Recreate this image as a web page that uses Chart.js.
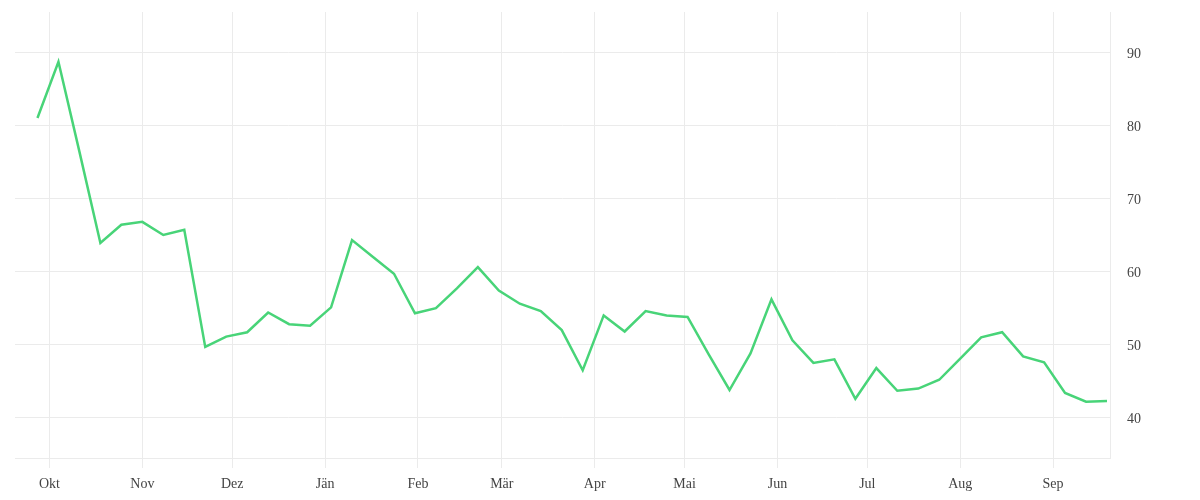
<!DOCTYPE html>
<html>
<head>
<meta charset="utf-8">
<script src="https://cdn.jsdelivr.net/npm/chart.js@4"></script>
<style>
  html, body { margin: 0; padding: 0; background: #ffffff; }
  #wrap { width: 1200px; height: 500px; }
</style>
</head>
<body>
<div id="wrap"><canvas id="c"></canvas></div>
<script>
// ---- data ----
const startDate = "2022-09-27";          // first weekly observation
const weekValues = [
  81.0, 88.7, 76.4, 63.9, 66.4, 66.8, 65.0, 65.7, 49.7, 51.1,
  51.7, 54.4, 52.8, 52.6, 55.1, 64.3, 62.0, 59.7, 54.3, 55.0,
  57.7, 60.6, 57.4, 55.6, 54.6, 52.0, 46.5, 54.0, 51.8, 54.6,
  54.0, 53.8, 48.7, 43.8, 48.8, 56.2, 50.6, 47.5, 48.0, 42.6,
  46.8, 43.7, 44.0, 45.2, 48.1, 51.0, 51.7, 48.4, 47.6, 43.4,
  42.2, 42.3
];
const monthStarts = ["2022-10-01","2022-11-01","2022-12-01","2023-01-01","2023-02-01","2023-03-01",
                     "2023-04-01","2023-05-01","2023-06-01","2023-07-01","2023-08-01","2023-09-01"];
const monthLabels = ["Okt","Nov","Dez","Jän","Feb","Mär","Apr","Mai","Jun","Jul","Aug","Sep"];
const yTicks = [40, 50, 60, 70, 80, 90];
const xRange = ["2022-09-19", "2023-09-20"];
const yRange = [34.5, 95.5];

// ---- helpers ----
const DAY = 86400000;
const toDay = s => { const [y,m,d] = s.split("-").map(Number); return Date.UTC(y, m-1, d) / DAY; };
const t0 = toDay(startDate);
const points = weekValues.map((v, i) => ({ x: t0 + 7*i, y: v }));
const monthDays = monthStarts.map(toDay);

const gridColor = "#ebebeb";
const fontSpec = { family: "'Liberation Serif', 'DejaVu Serif', serif", size: 14 };

new Chart(document.getElementById("c"), {
  type: "line",
  data: {
    datasets: [{
      data: points,
      borderColor: "#48d478",
      borderWidth: 2.5,
      pointRadius: 0,
      tension: 0,
      fill: false
    }]
  },
  options: {
    responsive: true,
    maintainAspectRatio: false,
    animation: false,
    layout: { padding: { left: 15, top: 12, right: 0, bottom: 0 } },
    plugins: { legend: { display: false }, tooltip: { enabled: false } },
    scales: {
      x: {
        type: "linear",
        min: toDay(xRange[0]) + 0.5,
        max: toDay(xRange[1]),
        afterBuildTicks: s => { s.ticks = monthDays.map(v => ({ value: v })); },
        afterFit: s => { s.height = 42; },
        grid: { color: gridColor, lineWidth: 1, tickLength: 10, drawTicks: true, tickColor: gridColor },
        border: { display: true, color: gridColor },
        ticks: {
          autoSkip: false,
          maxRotation: 0,
          padding: 8,
          color: "#444444",
          font: fontSpec,
          callback: v => { const i = monthDays.indexOf(v); return i >= 0 ? monthLabels[i] : ""; }
        }
      },
      y: {
        type: "linear",
        position: "right",
        min: yRange[0],
        max: yRange[1],
        afterBuildTicks: s => { s.ticks = yTicks.map(v => ({ value: v })); },
        afterFit: s => { s.width = 90; s.paddingTop = 0; s.paddingBottom = 0; },
        grid: { color: gridColor, lineWidth: 1, drawTicks: false },
        border: { display: true, color: gridColor },
        ticks: { padding: 17, labelOffset: 2, color: "#444444", font: fontSpec }
      }
    }
  }
});
</script>
</body>
</html>
